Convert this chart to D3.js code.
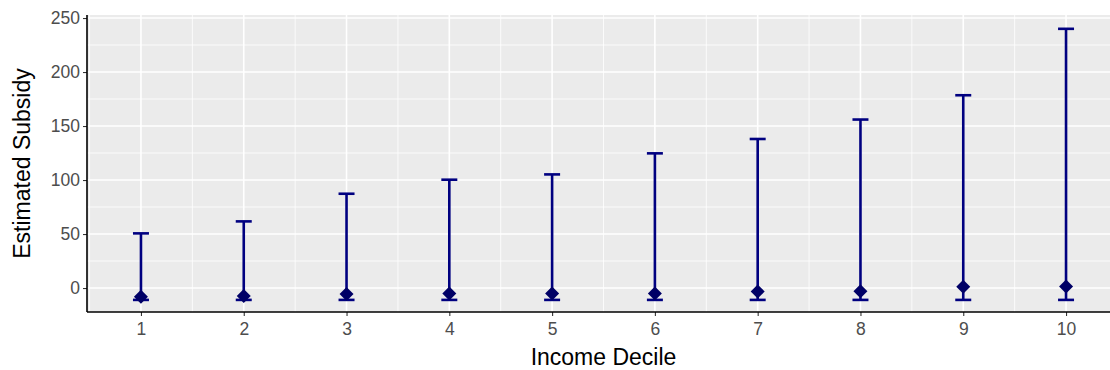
<!DOCTYPE html>
<html>
<head>
<meta charset="utf-8">
<script src="https://cdn.jsdelivr.net/npm/d3@7"></script>
<style>
  body { margin: 0; background: #ffffff; }
  text { font-family: Arial, "Liberation Sans", sans-serif; }
</style>
</head>
<body>
<script>
// Data
var deciles = [1, 2, 3, 4, 5, 6, 7, 8, 9, 10];
var estimate = [-8, -7.5, -5.5, -5, -5, -5, -3.2, -3, 1.2, 1.5];
var lower = [-11, -11, -11, -11, -11, -11, -11, -11, -11, -11];
var upper = [50.6, 61.7, 87.3, 100.3, 105.2, 124.7, 138, 156, 178.5, 240];
var yTicks = [0, 50, 100, 150, 200, 250];
var yMinor = [25, 75, 125, 175, 225];
var xMinor = [0.5, 1.5, 2.5, 3.5, 4.5, 5.5, 6.5, 7.5, 8.5, 9.5, 10.5];

// SVG dimensions
var svgWidth = 1110;
var svgHeight = 370;

// panel area (runs off the right edge like the picture)
var panel = { left: 87, right: 1120, top: 15, bottom: 312 };

var svg = d3.select("body")
  .append("svg")
  .attr("width", svgWidth)
  .attr("height", svgHeight);

var xScale = d3.scaleLinear()
  .domain([0.475, 10.525])
  .range([panel.left, panel.right]);

var yScale = d3.scaleLinear()
  .domain([-22.2, 252.8])
  .range([panel.bottom, panel.top]);

// Panel background
svg.append("rect")
  .attr("x", panel.left)
  .attr("y", panel.top)
  .attr("width", panel.right - panel.left)
  .attr("height", panel.bottom - panel.top)
  .attr("fill", "#EBEBEB");

var grid = svg.append("g");

// minor grid
grid.selectAll(".ymin").data(yMinor).enter().append("line")
  .attr("x1", panel.left).attr("x2", panel.right)
  .attr("y1", function(d) { return yScale(d); })
  .attr("y2", function(d) { return yScale(d); })
  .attr("stroke", "#ffffff").attr("stroke-width", 0.8);

grid.selectAll(".xmin").data(xMinor).enter().append("line")
  .attr("y1", panel.top).attr("y2", panel.bottom)
  .attr("x1", function(d) { return xScale(d); })
  .attr("x2", function(d) { return xScale(d); })
  .attr("stroke", "#ffffff").attr("stroke-width", 0.8);

// major grid
grid.selectAll(".ymaj").data(yTicks).enter().append("line")
  .attr("x1", panel.left).attr("x2", panel.right)
  .attr("y1", function(d) { return yScale(d); })
  .attr("y2", function(d) { return yScale(d); })
  .attr("stroke", "#ffffff").attr("stroke-width", 1.6);

grid.selectAll(".xmaj").data(deciles).enter().append("line")
  .attr("y1", panel.top).attr("y2", panel.bottom)
  .attr("x1", function(d) { return xScale(d); })
  .attr("x2", function(d) { return xScale(d); })
  .attr("stroke", "#ffffff").attr("stroke-width", 1.6);

// Axes
var leftAxis = d3.axisLeft(yScale)
  .tickValues(yTicks)
  .tickSize(4)
  .tickPadding(3);

var bottomAxis = d3.axisBottom(xScale)
  .tickValues(deciles)
  .tickSize(4)
  .tickPadding(7);

var yAxisG = svg.append("g")
  .attr("transform", `translate(${panel.left},0)`)
  .call(leftAxis);

var xAxisG = svg.append("g")
  .attr("transform", `translate(0,${panel.bottom})`)
  .call(bottomAxis);

[yAxisG, xAxisG].forEach(function(g) {
  g.select(".domain").remove();
  g.selectAll(".tick line").attr("stroke", "#333333").attr("stroke-width", 1.1);
  g.selectAll(".tick text")
    .attr("fill", "#4D4D4D")
    .style("font-size", "17.5px");
});

// axis lines
svg.append("line")
  .attr("x1", panel.left).attr("x2", panel.left)
  .attr("y1", panel.top).attr("y2", panel.bottom)
  .attr("stroke", "#000000").attr("stroke-width", 1.6);
svg.append("line")
  .attr("x1", panel.left).attr("x2", panel.right)
  .attr("y1", panel.bottom).attr("y2", panel.bottom)
  .attr("stroke", "#000000").attr("stroke-width", 1.6);

// Error bars
var rows = deciles.map(function(d, i) {
  return { x: d, est: estimate[i], lo: lower[i], hi: upper[i] };
});

var barColor = "#000080";
var bars = svg.append("g").selectAll("g").data(rows).enter().append("g");

bars.append("line")
  .attr("x1", function(d) { return xScale(d.x); })
  .attr("x2", function(d) { return xScale(d.x); })
  .attr("y1", function(d) { return yScale(d.lo); })
  .attr("y2", function(d) { return yScale(d.hi); })
  .attr("stroke", barColor).attr("stroke-width", 2.6);

bars.append("line")
  .attr("x1", function(d) { return xScale(d.x) - 8; })
  .attr("x2", function(d) { return xScale(d.x) + 8; })
  .attr("y1", function(d) { return yScale(d.hi); })
  .attr("y2", function(d) { return yScale(d.hi); })
  .attr("stroke", barColor).attr("stroke-width", 2.6);

bars.append("line")
  .attr("x1", function(d) { return xScale(d.x) - 8; })
  .attr("x2", function(d) { return xScale(d.x) + 8; })
  .attr("y1", function(d) { return yScale(d.lo); })
  .attr("y2", function(d) { return yScale(d.lo); })
  .attr("stroke", barColor).attr("stroke-width", 2.6);

// diamond points (rotated square)
var diamond = d3.symbol().type(d3.symbolSquare).size(98);
bars.append("path")
  .attr("d", diamond)
  .attr("transform", function(d) {
    return `translate(${xScale(d.x)},${yScale(d.est)}) rotate(45)`;
  })
  .attr("fill", "#000066");

// Axis titles
svg.append("text")
  .attr("x", (panel.left + panel.right) / 2)
  .attr("y", 365)
  .attr("text-anchor", "middle")
  .style("font-size", "23px")
  .attr("fill", "#000000")
  .text("Income Decile");

svg.append("text")
  .attr("transform", `translate(30,${(panel.top + panel.bottom) / 2}) rotate(-90)`)
  .attr("text-anchor", "middle")
  .style("font-size", "23px")
  .attr("fill", "#000000")
  .text("Estimated Subsidy");
</script>
</body>
</html>
